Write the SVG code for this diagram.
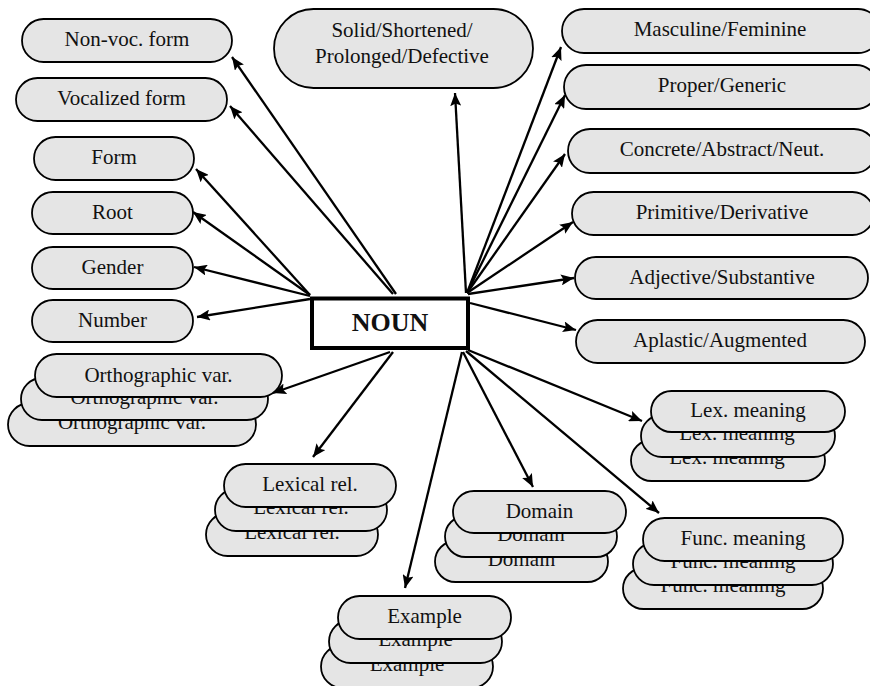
<svg xmlns="http://www.w3.org/2000/svg" width="870" height="686" viewBox="0 0 870 686">
  <defs>
    <marker id="arrow" markerUnits="userSpaceOnUse" markerWidth="14" markerHeight="11" refX="13" refY="5.5" orient="auto">
      <path d="M0,0 L13,5.5 L0,11 L2.5,5.5 z" fill="#000"/>
    </marker>
    <style>
      .pill { fill: #e5e5e5; stroke: #000; stroke-width: 1.8; }
      .lbl { font-family: "Liberation Serif", "Times New Roman", serif; font-size: 21px; fill: #111; text-anchor: middle; }
      .edge { stroke: #000; stroke-width: 2.3; fill: none; marker-end: url(#arrow); }
      .core { fill: #fff; stroke: #000; stroke-width: 4; }
      .core-lbl { font-family: "Liberation Serif", "Times New Roman", serif; font-size: 26px; font-weight: bold; fill: #111; text-anchor: middle; }
    </style>
  </defs>
  <rect width="870" height="686" fill="#fff"/>

  <!-- connectors: every arrow leaves the central NOUN box -->
  <g id="connectors">
    <line class="edge" x1="396" y1="294" x2="232" y2="57"/>
    <line class="edge" x1="393" y1="294" x2="230" y2="106"/>
    <line class="edge" x1="310" y1="295" x2="196" y2="169"/>
    <line class="edge" x1="310" y1="295" x2="193" y2="212"/>
    <line class="edge" x1="310" y1="296" x2="194" y2="267"/>
    <line class="edge" x1="310" y1="299" x2="197" y2="317"/>
    <line class="edge" x1="390" y1="352" x2="273" y2="393"/>
    <line class="edge" x1="393" y1="352" x2="313" y2="457"/>
    <line class="edge" x1="462" y1="352" x2="405" y2="588"/>
    <line class="edge" x1="463" y1="352" x2="533" y2="487"/>
    <line class="edge" x1="466" y1="351" x2="659" y2="513"/>
    <line class="edge" x1="468" y1="350" x2="642" y2="421"/>
    <line class="edge" x1="470" y1="303" x2="576" y2="330"/>
    <line class="edge" x1="468" y1="294" x2="574" y2="278"/>
    <line class="edge" x1="467" y1="293" x2="573" y2="222"/>
    <line class="edge" x1="467" y1="293" x2="565" y2="154"/>
    <line class="edge" x1="467" y1="293" x2="565" y2="95"/>
    <line class="edge" x1="467" y1="293" x2="561" y2="47"/>
    <line class="edge" x1="466" y1="293" x2="455" y2="93"/>
  </g>

  <!-- central node -->
  <g id="noun">
    <rect class="core" x="312" y="298.5" width="156" height="49.5"/>
    <text class="core-lbl" x="390" y="331">NOUN</text>
  </g>

  <!-- left column -->
  <g id="non-voc-form">
    <rect class="pill" x="22" y="19" width="210" height="43" rx="21.5"/>
    <text class="lbl" x="127" y="46">Non-voc. form</text>
  </g>
  <g id="vocalized-form">
    <rect class="pill" x="16" y="78" width="211" height="43" rx="21.5"/>
    <text class="lbl" x="121.5" y="105">Vocalized form</text>
  </g>
  <g id="form">
    <rect class="pill" x="34" y="137" width="160" height="43" rx="21.5"/>
    <text class="lbl" x="114" y="164">Form</text>
  </g>
  <g id="root">
    <rect class="pill" x="32" y="192" width="161" height="42" rx="21"/>
    <text class="lbl" x="112.5" y="218.5">Root</text>
  </g>
  <g id="gender">
    <rect class="pill" x="32" y="247" width="161" height="42" rx="21"/>
    <text class="lbl" x="112.5" y="273.5">Gender</text>
  </g>
  <g id="number">
    <rect class="pill" x="32" y="300" width="161" height="42" rx="21"/>
    <text class="lbl" x="112.5" y="326.5">Number</text>
  </g>

  <!-- top centre -->
  <g id="solid-shortened">
    <rect class="pill" x="274" y="9" width="259" height="79" rx="39.5"/>
    <text class="lbl" x="402" y="37">Solid/Shortened/</text>
    <text class="lbl" x="402" y="63">Prolonged/Defective</text>
  </g>

  <!-- right column -->
  <g id="masculine-feminine">
    <rect class="pill" x="562" y="9" width="318" height="44" rx="22"/>
    <text class="lbl" x="720" y="36">Masculine/Feminine</text>
  </g>
  <g id="proper-generic">
    <rect class="pill" x="564" y="65" width="314" height="44" rx="22"/>
    <text class="lbl" x="722" y="92">Proper/Generic</text>
  </g>
  <g id="concrete-abstract">
    <rect class="pill" x="568" y="129" width="308" height="44" rx="22"/>
    <text class="lbl" x="722" y="156">Concrete/Abstract/Neut.</text>
  </g>
  <g id="primitive-derivative">
    <rect class="pill" x="572" y="192" width="302" height="43" rx="21.5"/>
    <text class="lbl" x="722" y="219">Primitive/Derivative</text>
  </g>
  <g id="adjective-substantive">
    <rect class="pill" x="575" y="257" width="293" height="42" rx="21"/>
    <text class="lbl" x="722" y="283.5">Adjective/Substantive</text>
  </g>
  <g id="aplastic-augmented">
    <rect class="pill" x="576" y="320" width="289" height="43" rx="21.5"/>
    <text class="lbl" x="720" y="347">Aplastic/Augmented</text>
  </g>

  <!-- stacked nodes: back copies first, front copy last -->
  <g id="orthographic-var">
    <rect class="pill" x="8" y="403" width="248" height="43" rx="21.5"/>
    <text class="lbl" x="132" y="428.5">Orthographic var.</text>
    <rect class="pill" x="21" y="378" width="247" height="42" rx="21"/>
    <text class="lbl" x="144.5" y="403.5">Orthographic var.</text>
    <rect class="pill" x="35" y="354" width="247" height="43" rx="21.5"/>
    <text class="lbl" x="158.5" y="381.5">Orthographic var.</text>
  </g>
  <g id="lexical-rel">
    <rect class="pill" x="206" y="513" width="172" height="43" rx="21.5"/>
    <text class="lbl" x="292" y="538.5">Lexical rel.</text>
    <rect class="pill" x="215" y="489" width="172" height="42" rx="21"/>
    <text class="lbl" x="301" y="514">Lexical rel.</text>
    <rect class="pill" x="224" y="464" width="172" height="43" rx="21.5"/>
    <text class="lbl" x="310" y="491">Lexical rel.</text>
  </g>
  <g id="domain">
    <rect class="pill" x="435" y="541" width="173" height="41" rx="20.5"/>
    <text class="lbl" x="521.5" y="565.5">Domain</text>
    <rect class="pill" x="445" y="516" width="172" height="41" rx="20.5"/>
    <text class="lbl" x="531" y="540.5">Domain</text>
    <rect class="pill" x="453" y="491" width="173" height="42" rx="21"/>
    <text class="lbl" x="539.5" y="517.5">Domain</text>
  </g>
  <g id="example">
    <rect class="pill" x="321" y="645" width="172" height="43" rx="21.5"/>
    <text class="lbl" x="407" y="670.5">Example</text>
    <rect class="pill" x="329" y="620" width="173" height="43" rx="21.5"/>
    <text class="lbl" x="415.5" y="645.5">Example</text>
    <rect class="pill" x="338" y="596" width="173" height="43" rx="21.5"/>
    <text class="lbl" x="424.5" y="623">Example</text>
  </g>
  <g id="lex-meaning">
    <rect class="pill" x="631" y="440" width="194" height="41" rx="20.5"/>
    <text class="lbl" x="727" y="464">Lex. meaning</text>
    <rect class="pill" x="641" y="415" width="194" height="42" rx="21"/>
    <text class="lbl" x="737" y="440">Lex. meaning</text>
    <rect class="pill" x="651" y="391" width="194" height="41" rx="20.5"/>
    <text class="lbl" x="748" y="417">Lex. meaning</text>
  </g>
  <g id="func-meaning">
    <rect class="pill" x="623" y="568" width="200" height="41" rx="20.5"/>
    <text class="lbl" x="723" y="592">Func. meaning</text>
    <rect class="pill" x="633" y="543" width="200" height="42" rx="21"/>
    <text class="lbl" x="733" y="568">Func. meaning</text>
    <rect class="pill" x="643" y="518" width="200" height="43" rx="21.5"/>
    <text class="lbl" x="743" y="545">Func. meaning</text>
  </g>
</svg>
